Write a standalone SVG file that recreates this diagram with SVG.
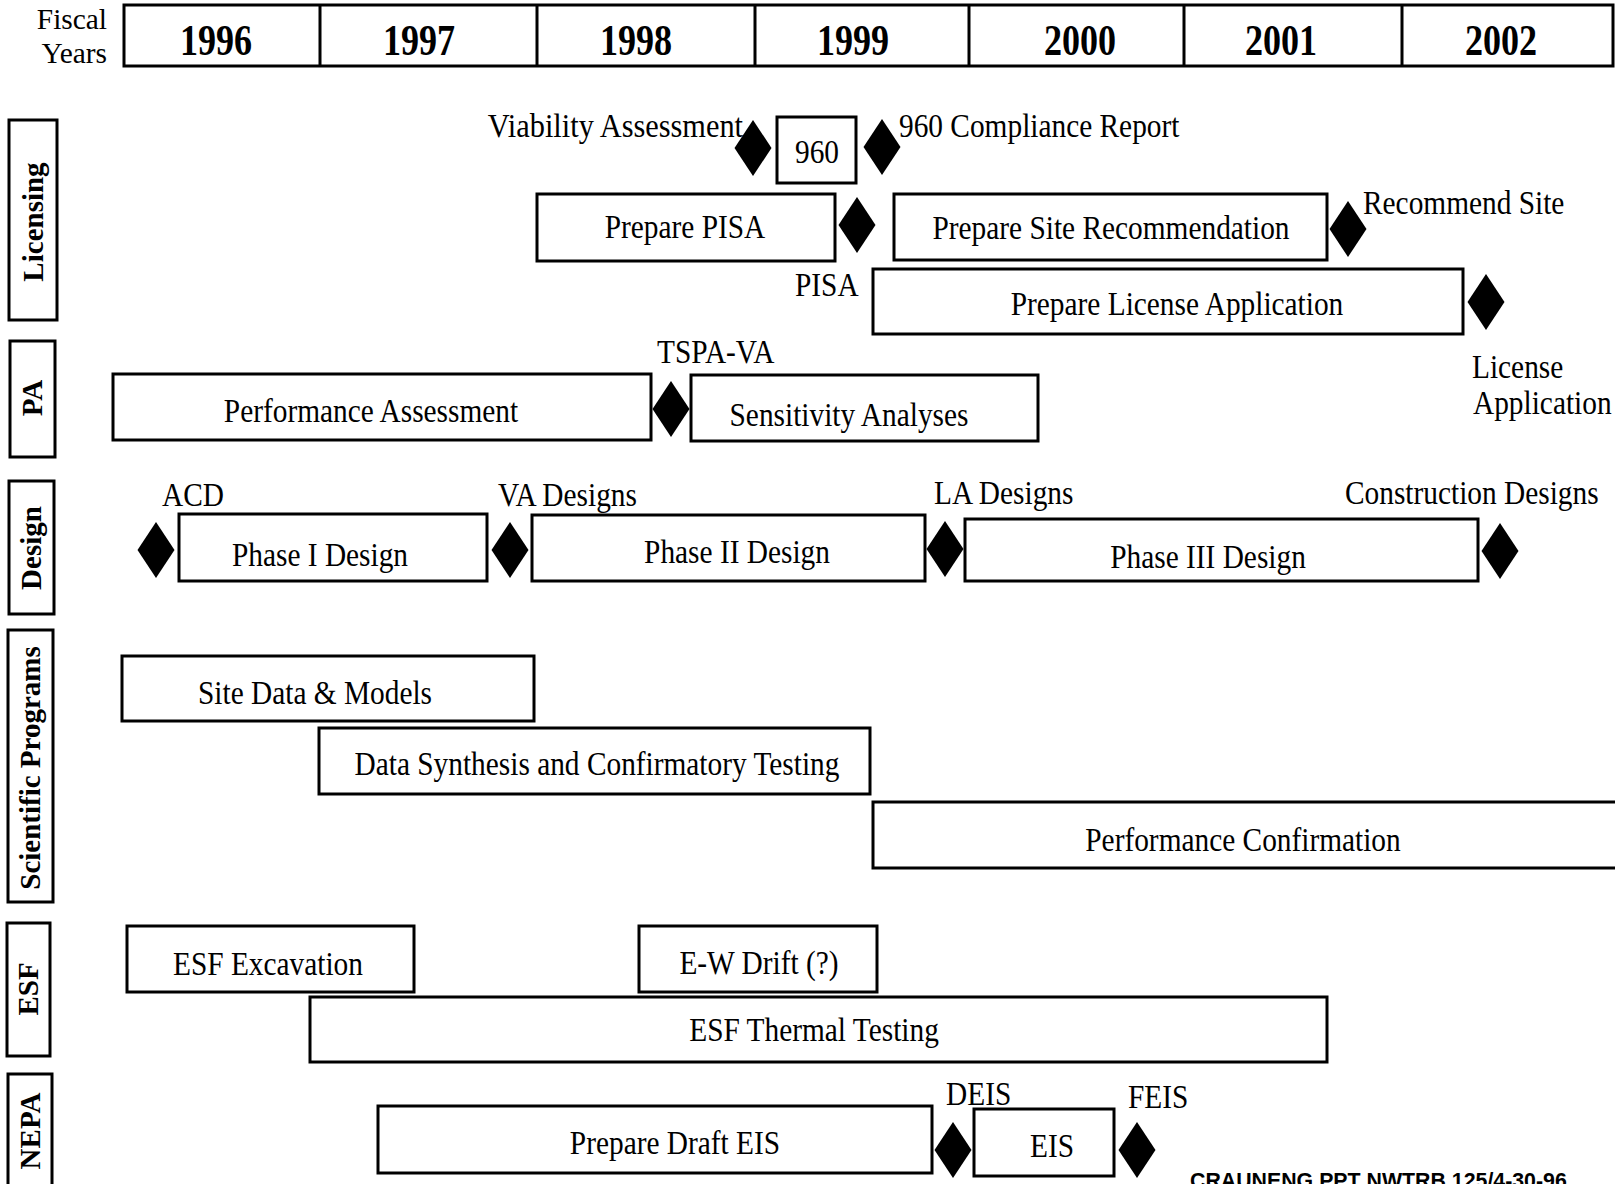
<svg xmlns="http://www.w3.org/2000/svg" xmlns:xlink="http://www.w3.org/1999/xlink" width="1615" height="1184" viewBox="0 0 1615 1184">
<style>
.box{fill:#fff;stroke:#000;stroke-width:3}
.open{fill:none;stroke:#000;stroke-width:3}
.t{font-family:"Liberation Serif","Times New Roman",serif;font-size:33px;fill:#000}
.fy{font-family:"Liberation Serif","Times New Roman",serif;font-size:30px;fill:#000;text-anchor:end}
.c{text-anchor:middle}
.e{text-anchor:end}
.yr{font-family:"Liberation Serif","Times New Roman",serif;font-size:44px;font-weight:bold;fill:#000;text-anchor:middle}
.lbl{font-family:"Liberation Serif","Times New Roman",serif;font-size:29px;font-weight:bold;fill:#000;text-anchor:middle}
.foot{font-family:"Liberation Sans",Arial,sans-serif;font-size:22px;font-weight:bold;fill:#000}
.dia{fill:#000}
</style>
<defs>
<path id="dia" d="M0,-28 L18.5,0 L0,28 L-18.5,0 Z"/>
</defs>
<rect width="1615" height="1184" fill="#fff"/>

<g id="header">
<text class="fy" transform="translate(107,29) scale(0.98,1)">Fiscal</text>
<text class="fy" transform="translate(107,63) scale(0.98,1)">Years</text>
<rect class="box" x="124" y="5" width="1489" height="61"/>
<path class="open" d="M320,5V66M537,5V66M755,5V66M969,5V66M1184,5V66M1402,5V66"/>
<text class="yr" transform="translate(216,55) scale(0.82,1)">1996</text>
<text class="yr" transform="translate(419,55) scale(0.82,1)">1997</text>
<text class="yr" transform="translate(636,55) scale(0.82,1)">1998</text>
<text class="yr" transform="translate(853,55) scale(0.82,1)">1999</text>
<text class="yr" transform="translate(1080,55) scale(0.82,1)">2000</text>
<text class="yr" transform="translate(1281,55) scale(0.82,1)">2001</text>
<text class="yr" transform="translate(1501,55) scale(0.82,1)">2002</text>
</g>

<g id="lane-licensing">
<rect class="box" x="9" y="120" width="48" height="200"/>
<text class="lbl" transform="translate(43,222) rotate(-90)">Licensing</text>
</g>
<g id="lane-pa">
<rect class="box" x="10" y="341" width="45" height="116"/>
<text class="lbl" transform="translate(42,398) rotate(-90)">PA</text>
</g>
<g id="lane-design">
<rect class="box" x="9" y="481" width="45" height="133"/>
<text class="lbl" transform="translate(41,548) rotate(-90)">Design</text>
</g>
<g id="lane-scientific">
<rect class="box" x="8" y="630" width="45" height="272"/>
<text class="lbl" transform="translate(40,768) rotate(-90)">Scientific Programs</text>
</g>
<g id="lane-esf">
<rect class="box" x="7" y="923" width="43" height="133"/>
<text class="lbl" transform="translate(38,989) rotate(-90)">ESF</text>
</g>
<g id="lane-nepa">
<rect class="box" x="8" y="1074" width="44" height="130"/>
<text class="lbl" transform="translate(40,1131) rotate(-90)">NEPA</text>
</g>

<g id="connectors"></g>

<!-- Licensing -->
<g id="ms-viability">
<use xlink:href="#dia" class="dia" x="753" y="148"/>
<text class="t e" transform="translate(743,137) scale(0.92,1)">Viability Assessment</text>
</g>
<g id="task-960">
<rect class="box" x="777" y="117" width="79" height="66"/>
<text class="t c" transform="translate(817,163) scale(0.89,1)">960</text>
</g>
<g id="ms-960-report">
<use xlink:href="#dia" class="dia" x="882" y="147"/>
<text class="t" transform="translate(899,137) scale(0.89,1)">960 Compliance Report</text>
</g>
<g id="task-prepare-pisa">
<rect class="box" x="537" y="194" width="298" height="67"/>
<text class="t c" transform="translate(685,238) scale(0.89,1)">Prepare PISA</text>
</g>
<g id="ms-pisa">
<use xlink:href="#dia" class="dia" x="857" y="225"/>
<text class="t" transform="translate(795,296) scale(0.89,1)">PISA</text>
</g>
<g id="task-site-rec">
<rect class="box" x="894" y="194" width="433" height="66"/>
<text class="t c" transform="translate(1111,239) scale(0.89,1)">Prepare Site Recommendation</text>
</g>
<g id="ms-recommend-site">
<use xlink:href="#dia" class="dia" x="1348" y="229"/>
<text class="t" transform="translate(1363,214) scale(0.89,1)">Recommend Site</text>
</g>
<g id="task-license-app">
<rect class="box" x="873" y="269" width="590" height="65"/>
<text class="t c" transform="translate(1177,315) scale(0.89,1)">Prepare License Application</text>
</g>
<g id="ms-license-app">
<use xlink:href="#dia" class="dia" x="1486" y="302"/>
<text class="t" transform="translate(1472,378) scale(0.89,1)">License</text>
<text class="t" transform="translate(1473,414) scale(0.89,1)">Application</text>
</g>

<!-- PA -->
<g id="task-perf-assess">
<rect class="box" x="113" y="374" width="538" height="66"/>
<text class="t c" transform="translate(371,422) scale(0.89,1)">Performance Assessment</text>
</g>
<g id="ms-tspa-va">
<use xlink:href="#dia" class="dia" x="671" y="409"/>
<text class="t" transform="translate(657,363) scale(0.89,1)">TSPA-VA</text>
</g>
<g id="task-sensitivity">
<rect class="box" x="691" y="375" width="347" height="66"/>
<text class="t c" transform="translate(849,426) scale(0.89,1)">Sensitivity Analyses</text>
</g>

<!-- Design -->
<g id="ms-acd">
<use xlink:href="#dia" class="dia" x="156" y="550"/>
<text class="t" transform="translate(162,506) scale(0.89,1)">ACD</text>
</g>
<g id="task-phase1">
<rect class="box" x="179" y="514" width="308" height="67"/>
<text class="t c" transform="translate(320,566) scale(0.89,1)">Phase I Design</text>
</g>
<g id="ms-va-designs">
<use xlink:href="#dia" class="dia" x="510" y="550"/>
<text class="t" transform="translate(498,506) scale(0.89,1)">VA Designs</text>
</g>
<g id="task-phase2">
<rect class="box" x="532" y="515" width="393" height="66"/>
<text class="t c" transform="translate(737,563) scale(0.89,1)">Phase II Design</text>
</g>
<g id="ms-la-designs">
<use xlink:href="#dia" class="dia" x="945" y="549"/>
<text class="t" transform="translate(934,504) scale(0.89,1)">LA Designs</text>
</g>
<g id="task-phase3">
<rect class="box" x="965" y="519" width="513" height="62"/>
<text class="t c" transform="translate(1208,568) scale(0.89,1)">Phase III Design</text>
</g>
<g id="ms-construction-designs">
<use xlink:href="#dia" class="dia" x="1500" y="551"/>
<text class="t" transform="translate(1345,504) scale(0.89,1)">Construction Designs</text>
</g>

<!-- Scientific Programs -->
<g id="task-site-data">
<rect class="box" x="122" y="656" width="412" height="65"/>
<text class="t c" transform="translate(315,704) scale(0.89,1)">Site Data &amp; Models</text>
</g>
<g id="task-data-synthesis">
<rect class="box" x="319" y="728" width="551" height="66"/>
<text class="t c" transform="translate(597,775) scale(0.89,1)">Data Synthesis and Confirmatory Testing</text>
</g>
<g id="task-perf-confirm">
<path class="open" d="M1616,802H873V868H1616"/>
<text class="t c" transform="translate(1243,851) scale(0.89,1)">Performance Confirmation</text>
</g>

<!-- ESF -->
<g id="task-esf-excavation">
<rect class="box" x="127" y="926" width="287" height="66"/>
<text class="t c" transform="translate(268,975) scale(0.89,1)">ESF Excavation</text>
</g>
<g id="task-ew-drift">
<rect class="box" x="639" y="926" width="238" height="66"/>
<text class="t c" transform="translate(759,974) scale(0.89,1)">E-W Drift (?)</text>
</g>
<g id="task-esf-thermal">
<rect class="box" x="310" y="997" width="1017" height="65"/>
<text class="t c" transform="translate(814,1041) scale(0.89,1)">ESF Thermal Testing</text>
</g>

<!-- NEPA -->
<g id="task-draft-eis">
<rect class="box" x="378" y="1106" width="554" height="67"/>
<text class="t c" transform="translate(675,1154) scale(0.89,1)">Prepare Draft EIS</text>
</g>
<g id="ms-deis">
<use xlink:href="#dia" class="dia" x="953" y="1150"/>
<text class="t" transform="translate(946,1105) scale(0.89,1)">DEIS</text>
</g>
<g id="task-eis">
<rect class="box" x="974" y="1109" width="140" height="67"/>
<text class="t c" transform="translate(1052,1157) scale(0.89,1)">EIS</text>
</g>
<g id="ms-feis">
<use xlink:href="#dia" class="dia" x="1137" y="1150"/>
<text class="t" transform="translate(1128,1108) scale(0.89,1)">FEIS</text>
</g>

<g id="footer">
<text class="foot" transform="translate(1190,1188) scale(0.97,1)">CRAUNENG.PPT NWTRB 125/4-30-96</text>
</g>
</svg>
